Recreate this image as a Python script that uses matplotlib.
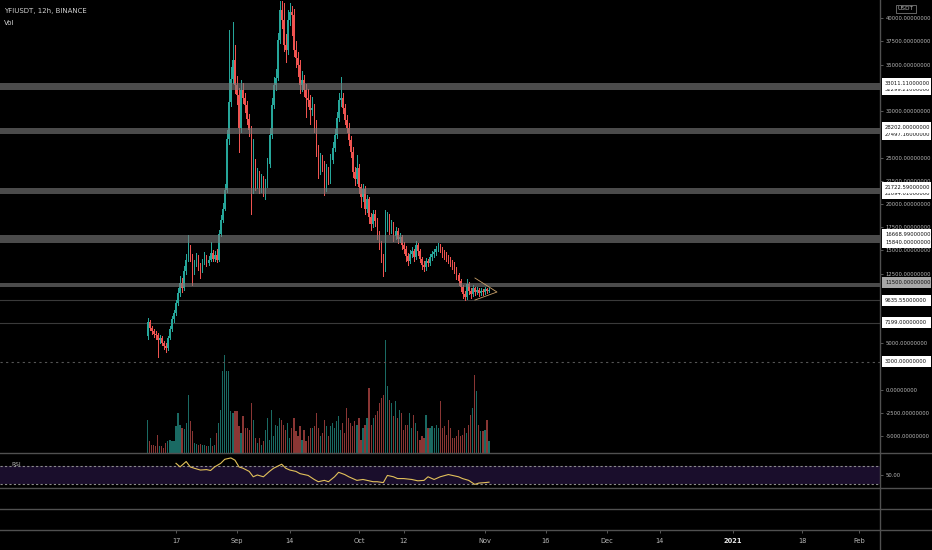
import matplotlib
matplotlib.use("Agg")
import matplotlib.pyplot as plt
import matplotlib.dates as mdates
import matplotlib.font_manager as fm
from matplotlib.lines import Line2D
from matplotlib.patches import Rectangle
from matplotlib.ticker import FormatStrFormatter
from matplotlib.transforms import blended_transform_factory
import numpy as np
import pandas as pd


# 12h candles, YFIUSDT on Binance, starting 2020-08-10
opens = [
    5800, 7300, 6600, 6300, 6000, 5900, 5300, 5600, 5000, 4700,
    4500, 5600, 6500, 7600, 8200, 9300, 10400, 11500, 10900, 12800,
    14000, 15200, 14300, 12800, 13600, 14200, 13300, 12900, 13700, 14300,
    13600, 14000, 14700, 14100, 14500, 14000, 16800, 18300, 19500, 21500,
    27000, 31000, 33500, 35500, 32800, 31750, 28200, 32300, 31400, 30700,
    29100, 28000, 21600, 24250, 22100, 23170, 21780, 22640, 21560, 22100,
    24250, 27470, 30680, 32830, 33580, 37660, 40880, 39800, 37120, 36590,
    39800, 40660, 40340, 36590, 35730, 34980, 32830, 33370, 32290, 31440,
    31220, 30150, 30360, 28540, 25860, 23710, 24780, 24250, 21780, 23710,
    22640, 24780, 26070, 27470, 29290, 31220, 31440, 30360, 29070, 28220,
    26930, 25640, 23490, 22640, 23920, 21780, 20710, 21560, 19420, 20490,
    18560, 17810, 18880, 18130, 16740, 15670, 14270, 12980, 17490, 18560,
    17270, 17810, 16520, 17060, 16200, 16410, 15560, 15130, 14370, 13840,
    14590, 14910, 14270, 15560, 14910, 14050, 13410, 13190, 13840, 13620,
    14270, 14590, 14800, 15130, 15450, 15130, 14700, 14480, 14270, 13950,
    13730, 13410, 12980, 12340, 11690, 11050, 10300, 9980, 11370, 10620,
    10300, 10940, 10510, 10730, 10400, 10620, 10510, 10830, 10620,
]
closes = [
    7300, 6600, 6300, 6000, 5900, 5300, 5600, 5000, 4700, 4500,
    5600, 6500, 7600, 8200, 9300, 10400, 11500, 10900, 12800, 14000,
    15200, 14300, 12800, 13600, 14200, 13300, 12900, 13700, 14300, 13600,
    14000, 14700, 14100, 14500, 14000, 16800, 18300, 19500, 21500, 27000,
    31000, 33500, 35500, 32800, 31750, 28200, 32300, 31400, 30700, 29100,
    28000, 21600, 24250, 22100, 23170, 21780, 22640, 21560, 22100, 24250,
    27470, 30680, 32830, 33580, 37660, 40880, 39800, 37120, 36590, 39800,
    40660, 40340, 36590, 35730, 34980, 32830, 33370, 32290, 31440, 31220,
    30150, 30360, 28540, 25860, 23710, 24780, 24250, 21780, 23710, 22640,
    24780, 26070, 27470, 29290, 31220, 31440, 30360, 29070, 28220, 26930,
    25640, 23490, 22640, 23920, 21780, 20710, 21560, 19420, 20490, 18560,
    17810, 18880, 18130, 16740, 15670, 14270, 12980, 17490, 18560, 17270,
    17810, 16520, 17060, 16200, 16410, 15560, 15130, 14370, 13840, 14590,
    14910, 14270, 15560, 14910, 14050, 13410, 13190, 13840, 13620, 14270,
    14590, 14800, 15130, 15450, 15130, 14700, 14480, 14270, 13950, 13730,
    13410, 12980, 12340, 11690, 11050, 10300, 9980, 11370, 10620, 10300,
    10940, 10510, 10730, 10400, 10620, 10510, 10830, 10620, 10730,
]
highs = [
    7700, 7500, 6900, 6500, 6300, 6100, 5900, 5800, 5200, 5000,
    5800, 6800, 7900, 8600, 9700, 10900, 12200, 12000, 13300, 14600,
    16700, 15600, 14600, 14000, 14700, 14500, 13600, 14100, 14800, 14500,
    14400, 15900, 15000, 14900, 15100, 17200, 18800, 20100, 22200, 28000,
    38700, 34800, 39600, 37100, 33800, 32500, 33300, 33000, 32000, 31100,
    29700, 28400, 27000, 24800, 23900, 23600, 23200, 23000, 22700, 24900,
    28200, 31400, 33700, 34500, 38400, 41900, 41900, 41700, 38300, 40900,
    41600, 41300, 41000, 37500, 36400, 35500, 34300, 33900, 32900, 32400,
    31700, 31500, 30800, 29000, 26400, 25500, 25300, 24600, 24300, 24000,
    25400, 26700, 28100, 29900, 31900, 33700, 31900, 30800, 29600, 28700,
    27300, 26100, 24000, 25300, 24300, 22100, 22100, 21900, 21000, 20800,
    19000, 19400, 19300, 18500, 17100, 16000, 14600, 19400, 19100, 18900,
    18300, 18100, 17500, 17400, 16900, 16700, 15900, 15500, 14700, 15000,
    15400, 15200, 16000, 15800, 15200, 14300, 13800, 14200, 14100, 14600,
    14900, 15200, 15500, 15800, 15700, 15400, 15000, 14800, 14500, 14300,
    14000, 13700, 13200, 12600, 11900, 11300, 10600, 11900, 11600, 10900,
    11300, 11100, 11000, 10900, 10900, 10800, 11000, 10900, 10900,
]
lows = [
    5500, 6400, 6000, 5700, 5500, 3500, 5000, 4800, 4400, 4100,
    4300, 5400, 6300, 7300, 8000, 9100, 10100, 10500, 10700, 12500,
    13800, 13900, 11300, 12500, 13300, 12900, 12000, 12700, 13500, 13300,
    13400, 13800, 13800, 13900, 13700, 13900, 16600, 18100, 19300, 21300,
    26500, 30500, 33000, 32000, 30800, 25600, 27800, 30900, 29900, 28600,
    27300, 18900, 21200, 21500, 21700, 21200, 21300, 20900, 20500, 21800,
    24000, 27100, 30300, 32300, 33300, 37300, 39000, 36500, 35300, 36200,
    39300, 38200, 35900, 34800, 33800, 31900, 32200, 31600, 29400, 30600,
    28600, 29600, 27800, 25200, 22800, 23200, 23500, 21000, 21400, 22100,
    22300, 24400, 25700, 27100, 28900, 30600, 29800, 28600, 27700, 26300,
    25100, 22900, 22000, 22300, 21200, 19700, 20300, 18900, 19100, 18000,
    17200, 17500, 17600, 16200, 15100, 13700, 12200, 12800, 17100, 16800,
    16900, 16000, 16200, 15800, 15900, 15100, 14700, 13900, 13400, 13600,
    14300, 13900, 14100, 14500, 13700, 13000, 12800, 12900, 13300, 13400,
    14000, 14300, 14500, 14900, 14800, 14300, 14100, 13900, 13600, 13300,
    13000, 12600, 11900, 11300, 10600, 9900, 9600, 9800, 10300, 9900,
    10100, 10200, 10300, 10100, 10200, 10200, 10300, 10400, 10500,
]
# volume bar heights (relative units)
volumes = [
    33, 12, 8, 8, 7, 18, 7, 7, 5, 10,
    12, 13, 12, 12, 27, 40, 28, 25, 24, 30,
    58, 32, 22, 10, 9, 8, 9, 8, 8,
    7, 7, 15, 7, 8, 20, 30, 43, 82,
    98,
    82, 82, 42, 40, 42, 42, 27, 20, 37, 25,
    25, 23, 50, 33, 15, 10, 15, 8, 12, 23,
    35, 13, 43, 17, 28, 27, 35, 33, 28, 23,
    30, 15, 25, 35, 22, 17, 27, 13, 23, 12,
    17, 25, 25, 27, 40, 25, 17, 20, 33, 27,
    17, 27, 30, 25, 32, 37, 23, 30, 20, 45,
    35, 30, 27, 32, 28, 35, 13, 25, 28, 35,
    65, 28, 35, 38, 42, 50, 55, 58,
    113,
    67, 53, 50, 37, 52, 35, 43, 40, 23, 28,
    28, 40, 25, 38, 30, 22, 13, 17, 15, 38,
    25, 25, 27, 25, 28, 25, 52, 25, 27, 18,
    33, 25, 15, 15, 17, 23, 17, 18, 25, 20,
    28, 38, 45, 78, 62, 28, 22, 22, 23, 33, 12,
]
rsi_idx = [
    14, 16, 19, 21, 23, 26, 29, 31, 33, 36, 38, 41, 43, 45, 47, 50, 52, 54, 57, 60,
    62, 66, 68, 70, 73, 75, 79, 82, 84, 87, 89, 92, 94, 97, 99, 101, 103, 106, 108, 111,
    113, 116, 118, 121, 123, 126, 130, 133, 136, 138, 141, 144, 148, 150, 153, 155, 158, 161, 163, 166,
    168,
]
rsi_values = [
    76, 68, 80, 68, 65, 61, 62, 60, 68, 76, 85, 88, 83, 68, 65, 58, 46, 50, 46, 58,
    65, 74, 65, 61, 58, 53, 49, 40, 35, 38, 35, 46, 56, 51, 46, 42, 38, 40, 38, 35,
    35, 33, 49, 46, 42, 42, 40, 37, 38, 46, 40, 46, 51, 49, 46, 42, 38, 29, 32, 33,
    34,
]

# horizontal zones (upper, lower) and single levels
zone_upper = [33011.11, 28202.00, 21722.59, 16668.99, 11500.00]
zone_lower = [32299.21, 27497.16, 21094.01, 15840.00, 11000.00]
line_levels = [9635.55, 7199.00]
dotted_level = 3000.00

# price scale: tick values (those hidden under level labels left out)
price_ticks = [-5000, -2500, 0, 5000, 12500, 15000, 17500, 20000, 22500, 25000,
               30000, 35000, 37500, 40000]

# small triangle drawn at the end of the price action
tri_dates = ["2020-10-29 13:00", "2020-11-03 23:00", "2020-10-29 13:00"]
tri_prices = [12020, 10510, 9650]

tick_dates = ["2020-08-17", "2020-09-01", "2020-09-14", "2020-10-01", "2020-10-12", "2020-11-01",
              "2020-11-16", "2020-12-01", "2020-12-14", "2021-01-01", "2021-01-18", "2021-02-01"]
tick_labels = ["17", "Sep", "14", "Oct", "12", "Nov", "16", "Dec", "14", "2021", "18", "Feb"]

UP = "#26a69a"
DOWN = "#ef5350"
VOL_UP = "#1a6a63"
VOL_DOWN = "#8a3634"
TEXT = "#b8b8b8"
SEP = "#505050"

names = {f.name for f in fm.fontManager.ttflist}
if "Liberation Sans Narrow" in names:
    NARROW, AX_FS = "Liberation Sans Narrow", 5.0
elif "DejaVu Sans Condensed" in names:
    NARROW, AX_FS = "DejaVu Sans Condensed", 4.2
else:
    NARROW, AX_FS = "DejaVu Sans", 3.8

W, H = 932, 550


def fbox(x0, y0, x1, y1):
    return [x0 / W, 1 - y1 / H, (x1 - x0) / W, (y1 - y0) / H]


times = pd.date_range("2020-08-10", periods=len(closes), freq="12h")
x = mdates.date2num(times)
o = np.array(opens, dtype=float)
c = np.array(closes, dtype=float)
up = c >= o
colors = np.where(up, UP, DOWN)
vol_colors = np.where(up, VOL_UP, VOL_DOWN)

fig = plt.figure(figsize=(W / 100, H / 100), dpi=100, facecolor="black")
ax = fig.add_axes(fbox(0, 0, 880, 453))
vax = ax.twinx()
rax = fig.add_axes(fbox(0, 453, 880, 488), sharex=ax)
eax1 = fig.add_axes(fbox(0, 488, 880, 509), sharex=ax)
eax2 = fig.add_axes(fbox(0, 509, 880, 530), sharex=ax)

for a in (ax, vax, rax, eax1, eax2):
    a.set_facecolor("black")
    for s in a.spines.values():
        s.set_visible(False)
ax.set_zorder(vax.get_zorder() + 1)
ax.patch.set_visible(False)

# volume overlay
vax.bar(x, volumes, width=0.3, color=vol_colors, linewidth=0, antialiased=False)
vax.set_ylim(0, 453)
vax.set_yticks([])

# candles
ax.vlines(x, lows, highs, colors=colors, linewidth=0.6, zorder=3, antialiased=False)
body = np.maximum(np.abs(c - o), 110)
ax.bar(x, body, bottom=np.minimum(o, c), width=0.34, color=colors, linewidth=0, zorder=4,
       antialiased=False)

for top, bot in zip(zone_upper, zone_lower):
    ax.axhspan(bot, top, color="#7a7a7a", alpha=0.62, linewidth=0, zorder=5)
for lvl in line_levels:
    ax.axhline(lvl, color="#3a3a3a", linewidth=0.8, zorder=2)
ax.axhline(dotted_level, color="#555555", linewidth=0.8, linestyle=(0, (2, 3)), zorder=2)

tri = mdates.date2num(pd.to_datetime(tri_dates))
ax.plot(tri, tri_prices, color="#c8a06a", linewidth=0.6, zorder=6)

ax.set_xlim(mdates.date2num(pd.Timestamp("2020-07-04 16:48")),
            mdates.date2num(pd.Timestamp("2021-02-06 04:30")))
ax.set_ylim(-6830, 41970)
ax.yaxis.tick_right()
ax.set_yticks(price_ticks)
ax.yaxis.set_major_formatter(FormatStrFormatter("%.8f"))
ax.tick_params(axis="y", colors="#666666", labelcolor=TEXT, length=2.5, width=0.6, pad=1.5,
               labelsize=AX_FS)
for lab in ax.get_yticklabels():
    lab.set_fontfamily(NARROW)
ax.tick_params(axis="x", bottom=False, labelbottom=False)

# level labels on the price scale
tr = blended_transform_factory(ax.transAxes, ax.transData)
box_h = 11 * 107.73
label_x0 = 882 / 880
box_w = 49 / 880


def price_label(price, text, face, z):
    ax.add_patch(Rectangle((label_x0, price - box_h / 2), box_w, box_h, transform=tr,
                           facecolor=face, edgecolor="none", clip_on=False, zorder=z))
    ax.text(885 / 880, price, text, transform=tr, ha="left", va="center", color="#111111",
            fontsize=AX_FS, family=NARROW, clip_on=False, zorder=z + 0.1)


for p in [32299.21, 27497.16, 21094.01, 15840.00]:
    price_label(p, f"{p:.8f}", "white", 10)
for p in [33011.11, 28202.00, 21722.59, 16668.99, 9635.55, 7199.00, 3000.00]:
    price_label(p, f"{p:.8f}", "white", 11)
price_label(11500.00, "11500.00000000", "#a8a8a8", 11)

# RSI pane
rax.axhspan(30, 70, color="#1a0e2c", linewidth=0)
rax.axhline(70, color="#8c8c8c", linewidth=0.8, linestyle=(0, (2, 2)))
rax.axhline(30, color="#8c8c8c", linewidth=0.8, linestyle=(0, (2, 2)))
rax.plot(x[rsi_idx], rsi_values, color="#e2c15a", linewidth=0.8)
rax.set_ylim(21, 99)
rax.yaxis.tick_right()
rax.set_yticks([50])
rax.set_yticklabels(["50.00"])
rax.tick_params(axis="y", colors="#666666", labelcolor=TEXT, length=2.5, width=0.6, pad=1.5,
                labelsize=AX_FS)
for lab in rax.get_yticklabels():
    lab.set_fontfamily(NARROW)
rax.tick_params(axis="x", bottom=False, labelbottom=False)

eax1.set_yticks([])
eax1.tick_params(axis="x", bottom=False, labelbottom=False)
eax2.set_yticks([])
eax2.set_xticks(mdates.date2num(pd.to_datetime(tick_dates)))
eax2.set_xticklabels(tick_labels)
eax2.tick_params(axis="x", colors="#666666", labelcolor=TEXT, length=2, width=0.6, pad=3.5,
                 labelsize=AX_FS + 1.0)
for lab in eax2.get_xticklabels():
    lab.set_fontfamily(NARROW)
    if lab.get_text() == "2021":
        lab.set_color("#e6e6e6")
        lab.set_fontweight("bold")

# pane separators and price scale border
for yy in (453, 488, 509, 530):
    fig.add_artist(Line2D([0, 1], [1 - yy / H] * 2, color=SEP, linewidth=1.0))
fig.add_artist(Line2D([880 / W] * 2, [0, 1], color=SEP, linewidth=1.0))

fig.text(4 / W, 1 - 11 / H, "YFIUSDT, 12h, BINANCE", color="#cfcfcf", fontsize=AX_FS + 1.2,
         family=NARROW, va="center")
fig.text(4 / W, 1 - 23 / H, "Vol", color="#cfcfcf", fontsize=AX_FS + 1.2, family=NARROW,
         va="center")
fig.text(11 / W, 1 - 465 / H, "RSI", color=TEXT, fontsize=AX_FS + 0.4, family=NARROW,
         va="center")
fig.text(906 / W, 1 - 9 / H, "USDT", color=TEXT, fontsize=AX_FS + 0.4, family=NARROW,
         ha="center", va="center",
         bbox=dict(boxstyle="square,pad=0.3", facecolor="black", edgecolor="#777777", linewidth=0.6))

fig.savefig("out.png", dpi=100, facecolor="black")
